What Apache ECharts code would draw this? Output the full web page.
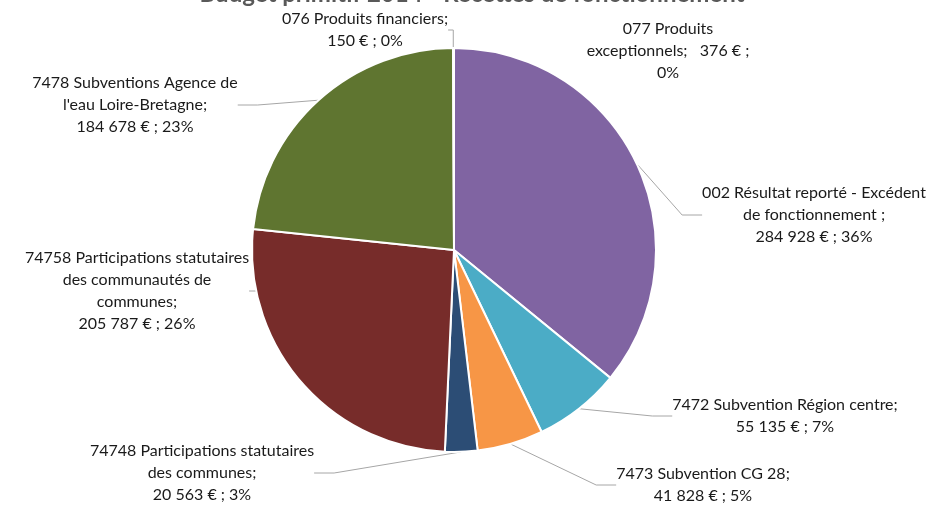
<!DOCTYPE html>
<html>
<head>
<meta charset="utf-8">
<script src="https://cdn.jsdelivr.net/npm/echarts@6/dist/echarts.min.js"></script>
<style>
  html, body { margin: 0; padding: 0; background: #fff; }
  #main { width: 938px; height: 507px; }
</style>
</head>
<body>
<div id="main"></div>
<script>
// données du budget
var titre = 'Budget primitif 2014 - Recettes de fonctionnement';
var names = [
    '002 Résultat reporté - Excédent\nde fonctionnement ;',
    '7472 Subvention Région centre;',
    '7473 Subvention CG 28;',
    '74748 Participations statutaires\ndes communes;',
    '74758 Participations statutaires\ndes communautés de\ncommunes;',
    '7478 Subventions Agence de\nl\'eau Loire-Bretagne;',
    '076 Produits financiers;',
    '077 Produits\nexceptionnels;'
];
var values = [284928, 55135, 41828, 20563, 205787, 184678, 150, 376];
var colors = ['#8064A2', '#4BACC6', '#F79646', '#2C4D75', '#772C2A', '#5F7530', '#4F81BD', '#C0504D'];
// séparateurs nom / valeur / pourcentage
var joins = ['\n', '\n', '\n', '\n', '\n', '\n', '\n', '   '];
var joinsPct = [' ', ' ', ' ', ' ', ' ', ' ', ' ', '\n'];

// position des étiquettes
var labelPos = [
    [814, 182], [785, 394], [703, 463], [202, 440],
    [137, 247], [135, 72], [365, 8], [668, 18]
];

var total = 0;
for (var i = 0; i < values.length; i++) total += values[i];

function fmt(v) {
    return v.toString().replace(/\B(?=(\d{3})+(?!\d))/g, ' ');
}

var data = [];
for (var i = 0; i < values.length; i++) {
    var item = { name: names[i], value: values[i], itemStyle: { color: colors[i] } };
    if (i === 7) item.labelLine = { show: false };
    data.push(item);
}

var myChart = echarts.init(document.getElementById('main'));

var option = {
    animation: false,
    // titre coupé en haut, comme sur l'original
    graphic: [{
        type: 'text',
        x: 472,
        y: 6,
        style: {
            text: titre,
            align: 'center',
            verticalAlign: 'bottom',
            fontFamily: 'Lato',
            fontSize: 24,
            fontWeight: 'bold',
            fill: '#595959'
        }
    }],
    series: [{
        type: 'pie',
        center: [454, 250],
        radius: 202,
        startAngle: 90,
        clockwise: true,
        data: data,
        itemStyle: { borderColor: '#fff', borderWidth: 2 },
        label: {
            show: true,
            fontFamily: 'Lato',
            fontSize: 16,
            lineHeight: 22,
            color: '#1a1a1a',
            align: 'center',
            formatter: function (p) {
                var i = p.dataIndex;
                var pct = Math.round(p.value / total * 100);
                return names[i] + joins[i] + fmt(p.value) + ' € ;' + joinsPct[i] + pct + '%';
            }
        },
        labelLine: {
            show: true,
            length: 20,
            length2: 20,
            lineStyle: { color: '#a6a6a6', width: 1 }
        },
        labelLayout: function (p) {
            var pos = labelPos[p.dataIndex];
            return { x: pos[0], y: pos[1], align: 'center', verticalAlign: 'top' };
        }
    }]
};

myChart.setOption(option);
</script>
</body>
</html>
